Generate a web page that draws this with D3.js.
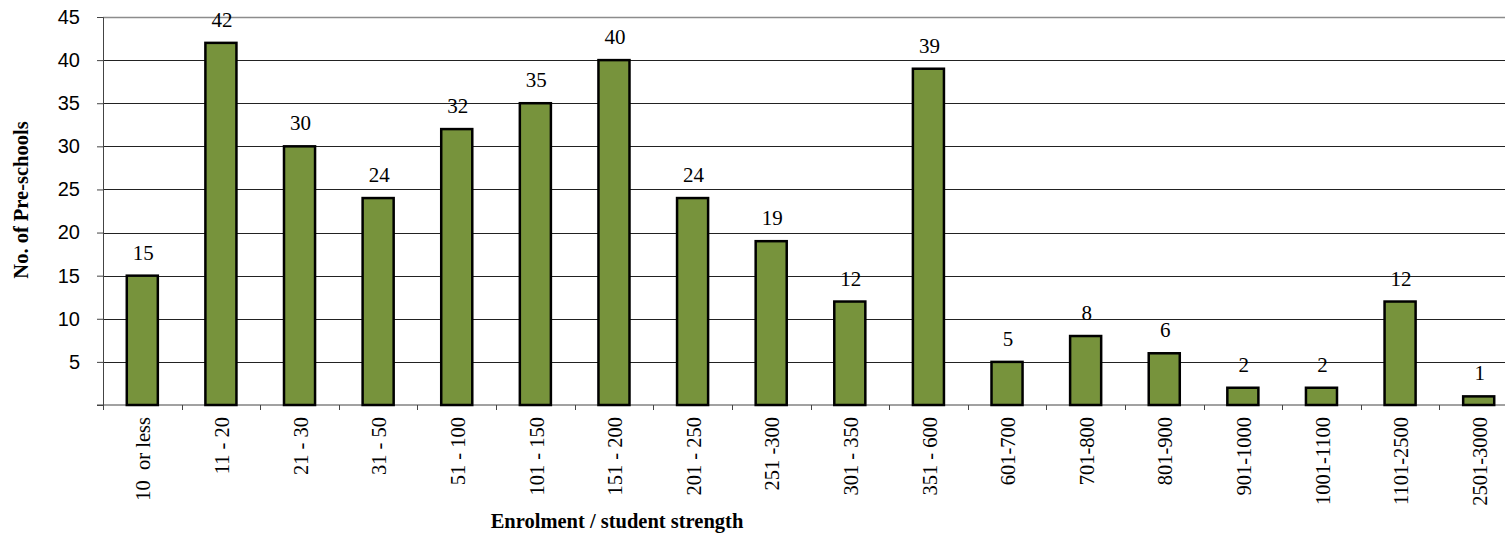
<!DOCTYPE html>
<html>
<head>
    <title>Pre-schools by enrolment</title>
    <script src="https://d3js.org/d3.v7.min.js"></script>
    <style>
        body { margin: 0; background: #fff; overflow: hidden; }
        .serif { font-family: "Liberation Serif", "Times New Roman", serif; }
        .sans { font-family: "Liberation Sans", Arial, sans-serif; }
    </style>
</head>
<body>
    <div id="chart"></div>
    <script>
        var categories = ["10  or less", "11 - 20", "21 - 30", "31 - 50", "51 - 100", "101 - 150",
            "151 - 200", "201 - 250", "251 -300", "301 - 350", "351 - 600", "601-700",
            "701-800", "801-900", "901-1000", "1001-1100", "1101-2500", "2501-3000"];
        var schools = [15, 42, 30, 24, 32, 35, 40, 24, 19, 12, 39, 5, 8, 6, 2, 2, 12, 1];
        var yTicks = [5, 10, 15, 20, 25, 30, 35, 40, 45];

        var width = 1505, height = 535;
        // plot area runs a little past the right edge of the page, as in the original
        var margin = {top: 17, left: 103, bottom: 130};
        var plotW = 1415;
        var plotH = height - margin.top - margin.bottom;

        var svg = d3.select("#chart")
            .append("svg")
            .attr("width", width)
            .attr("height", height);

        var g = svg.append("g")
            .attr("transform", "translate(" + margin.left + "," + margin.top + ")");

        var x = d3.scaleBand()
            .domain(categories)
            .range([0, plotW])
            .paddingInner(0.605)
            .paddingOuter(0.3025);

        var y = d3.scaleLinear()
            .domain([0, 45])
            .range([plotH, 0]);

        // gridlines
        g.selectAll(".grid")
            .data(yTicks)
            .enter()
            .append("line")
            .attr("x1", 0)
            .attr("x2", plotW)
            .attr("y1", function(d) { return Math.round(y(d)) + 0.5; })
            .attr("y2", function(d) { return Math.round(y(d)) + 0.5; })
            .attr("stroke", function(d) { return d === 45 ? "#8c8c8c" : "#222"; })
            .attr("stroke-width", function(d) { return d === 45 ? 1.5 : 1; });

        // y axis
        var yAxis = g.append("g")
            .call(d3.axisLeft(y).tickValues(yTicks).tickSize(6).tickPadding(17));
        yAxis.select(".domain").attr("stroke", "#444");
        yAxis.selectAll(".tick line").attr("stroke", "#444");
        yAxis.selectAll("text")
            .attr("class", "sans")
            .attr("font-family", null)
            .attr("font-size", "20px")
            .attr("fill", "#000");
        // tick at 0
        g.append("line")
            .attr("x1", -6).attr("x2", 0)
            .attr("y1", y(0)).attr("y2", y(0))
            .attr("stroke", "#444");

        // x axis baseline with ticks at band boundaries
        g.append("line")
            .attr("x1", 0).attr("x2", plotW)
            .attr("y1", y(0)).attr("y2", y(0))
            .attr("stroke", "#444");

        var step = x.step();
        g.selectAll(".xtick")
            .data(d3.range(categories.length + 1))
            .enter()
            .append("line")
            .attr("x1", function(i) { return Math.round(i * step) + 0.5; })
            .attr("x2", function(i) { return Math.round(i * step) + 0.5; })
            .attr("y1", y(0))
            .attr("y2", y(0) + 5)
            .attr("stroke", "#444");

        // bars
        g.selectAll("rect")
            .data(schools)
            .enter()
            .append("rect")
            .attr("x", function(d, i) { return x(categories[i]); })
            .attr("y", function(d) { return y(d); })
            .attr("width", x.bandwidth())
            .attr("height", function(d) { return y(0) - y(d); })
            .attr("fill", "#77933C")
            .attr("stroke", "#000")
            .attr("stroke-width", 2.5);

        // value labels
        g.selectAll(".val")
            .data(schools)
            .enter()
            .append("text")
            .attr("class", "serif")
            .attr("x", function(d, i) { return x(categories[i]) + x.bandwidth() / 2 + 1; })
            .attr("y", function(d) { return y(d) - 16; })
            .attr("text-anchor", "middle")
            .attr("font-size", "21px")
            .text(function(d) { return d; });

        // category labels (rotated)
        g.selectAll(".cat")
            .data(categories)
            .enter()
            .append("text")
            .attr("class", "serif")
            .attr("transform", function(d) {
                return "translate(" + (x(d) + x.bandwidth() / 2 + 1) + "," + (y(0) + 12) + ") rotate(-90)";
            })
            .attr("dy", "0.35em")
            .attr("text-anchor", "end")
            .attr("font-size", "20.5px")
            .style("white-space", "pre")
            .text(function(d) { return d; });

        // axis titles
        svg.append("text")
            .attr("class", "serif")
            .attr("x", 617)
            .attr("y", 528)
            .attr("text-anchor", "middle")
            .attr("font-weight", "bold")
            .attr("font-size", "20.5px")
            .text("Enrolment / student strength");

        svg.append("text")
            .attr("class", "serif")
            .attr("transform", "translate(28,200) rotate(-90)")
            .attr("text-anchor", "middle")
            .attr("font-weight", "bold")
            .attr("font-size", "20.5px")
            .text("No. of Pre-schools");
    </script>
</body>
</html>
